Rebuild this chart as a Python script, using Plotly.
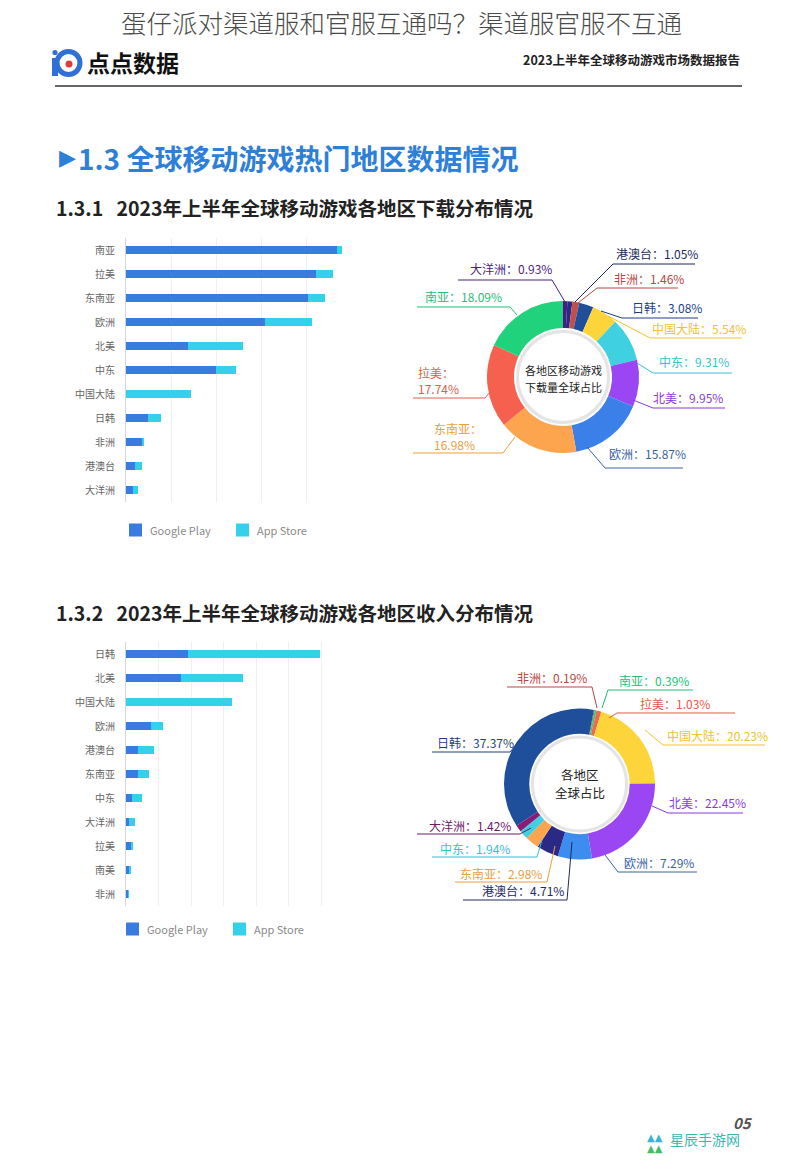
import plotly.graph_objects as go

W, H = 800, 1176
FONT = "Noto Sans CJK SC"

# ---------------- DATA ----------------
dl_regions = ["南亚", "拉美", "东南亚", "欧洲", "北美", "中东", "中国大陆", "日韩", "非洲", "港澳台", "大洋洲"]
dl_google = [46.7, 42.0, 40.3, 30.8, 13.8, 19.9, 0.0, 4.9, 3.5, 2.0, 1.6]
dl_apple = [1.1, 3.8, 3.7, 10.3, 12.0, 4.4, 14.3, 2.8, 0.5, 1.5, 1.1]

rev_regions = ["日韩", "北美", "中国大陆", "欧洲", "港澳台", "东南亚", "中东", "大洋洲", "拉美", "南美", "非洲"]
rev_google = [19.2, 17.0, 0.0, 7.7, 3.7, 3.7, 1.8, 1.0, 1.6, 1.1, 0.7]
rev_apple = [40.6, 18.9, 32.7, 3.8, 5.0, 3.4, 3.2, 1.9, 0.3, 0.3, 0.2]

pie1_regions = ["大洋洲", "港澳台", "非洲", "日韩", "中国大陆", "中东", "北美", "欧洲", "东南亚", "拉美", "南亚"]
pie1_share = [0.93, 1.05, 1.46, 3.08, 5.54, 9.31, 9.95, 15.87, 16.98, 17.74, 18.09]

pie2_regions = ["非洲", "南亚", "拉美", "中国大陆", "北美", "欧洲", "港澳台", "东南亚", "中东", "大洋洲", "日韩"]
pie2_share = [0.19, 0.39, 1.03, 20.23, 22.45, 7.29, 4.71, 2.98, 1.94, 1.42, 37.37]

series_names = ["Google Play", "App Store"]

# ---------------- STYLE ----------------
C_GP = "#3a7be0"
C_AS = "#33d2ea"
region_colors = {
    "大洋洲": "#4b1b86", "港澳台": "#2a2a86", "非洲": "#c2504a", "日韩": "#1f4f9b",
    "中国大陆": "#fdd53a", "中东": "#3fd0e2", "北美": "#9b46f3", "欧洲": "#3b80e8",
    "东南亚": "#fda54e", "拉美": "#f6604e", "南亚": "#1fd27b",
}
pie2_colors = dict(region_colors)
pie2_colors.update({"大洋洲": "#8a1c78", "欧洲": "#3d8cef", "南亚": "#2ecc71", "拉美": "#f06a4a"})
label_colors = {
    "大洋洲": "#4a1f7f", "港澳台": "#23295f", "非洲": "#b9473f", "日韩": "#1e3f86",
    "中国大陆": "#eec232", "中东": "#36bfd4", "北美": "#8c39e3", "欧洲": "#3a62a8",
    "东南亚": "#eb9e3e", "拉美": "#e25c48", "南亚": "#1fbf77",
}
label_colors2 = dict(label_colors)
label_colors2.update({"大洋洲": "#6e1a66"})


def X(px):
    return px / W


def Y(py):
    return 1 - py / H


fig = go.Figure()

# ---------------- BAR CHARTS ----------------
fig.add_trace(go.Bar(y=dl_regions, x=dl_google, orientation="h", name=series_names[0],
                     marker=dict(color=C_GP, line=dict(width=0)), width=0.32,
                     xaxis="x", yaxis="y", showlegend=False))
fig.add_trace(go.Bar(y=dl_regions, x=dl_apple, orientation="h", name=series_names[1],
                     marker=dict(color=C_AS, line=dict(width=0)), width=0.32,
                     xaxis="x", yaxis="y", showlegend=False))
fig.add_trace(go.Bar(y=rev_regions, x=rev_google, orientation="h", name=series_names[0],
                     marker=dict(color=C_GP, line=dict(width=0)), width=0.32,
                     xaxis="x2", yaxis="y2", showlegend=False))
fig.add_trace(go.Bar(y=rev_regions, x=rev_apple, orientation="h", name=series_names[1],
                     marker=dict(color=C_AS, line=dict(width=0)), width=0.32,
                     xaxis="x2", yaxis="y2", showlegend=False))

# ---------------- PIES ----------------
P1C, P1R = (563, 377), 76
P2C, P2R = (579.5, 784), 75.5

fig.add_trace(go.Pie(
    labels=pie1_regions, values=pie1_share, sort=False, direction="clockwise", rotation=0,
    hole=0.645, textinfo="none", showlegend=False,
    marker=dict(colors=[region_colors[r] for r in pie1_regions], line=dict(width=0)),
    domain=dict(x=[X(P1C[0] - P1R), X(P1C[0] + P1R)], y=[Y(P1C[1] + P1R), Y(P1C[1] - P1R)]),
))
fig.add_trace(go.Pie(
    labels=pie2_regions, values=pie2_share, sort=False, direction="clockwise", rotation=11,
    hole=0.665, textinfo="none", showlegend=False,
    marker=dict(colors=[pie2_colors[r] for r in pie2_regions], line=dict(width=0)),
    domain=dict(x=[X(P2C[0] - P2R), X(P2C[0] + P2R)], y=[Y(P2C[1] + P2R), Y(P2C[1] - P2R)]),
))

shapes = []
annotations = []


def text(x, y, s, size, color="#222", anchor="left", weight="normal", family=FONT, style="normal", align="left"):
    annotations.append(dict(
        x=X(x), y=Y(y), xref="paper", yref="paper", text=s, showarrow=False,
        xanchor=anchor, yanchor="middle", align=align,
        font=dict(family=family, size=size, color=color, weight=weight, style=style),
    ))


def polyline(pts, color, width=1):
    d = "M " + " L ".join(f"{X(a):.5f},{Y(b):.5f}" for a, b in pts)
    shapes.append(dict(type="path", path=d, xref="paper", yref="paper",
                       line=dict(color=color, width=width)))


def circle(cx, cy, r, line_color, line_width, fill="rgba(0,0,0,0)"):
    shapes.append(dict(type="circle", xref="paper", yref="paper",
                       x0=X(cx - r), x1=X(cx + r), y0=Y(cy + r), y1=Y(cy - r),
                       line=dict(color=line_color, width=line_width), fillcolor=fill))


def rect(x0, y0, x1, y1, fill, line_width=0):
    shapes.append(dict(type="rect", xref="paper", yref="paper",
                       x0=X(x0), x1=X(x1), y0=Y(y1), y1=Y(y0),
                       line=dict(width=line_width), fillcolor=fill))


# ---------------- HEADER ----------------
text(401, 21, "蛋仔派对渠道服和官服互通吗？渠道服官服不互通", 25.5, "#4a4a4a", "center", 300)
# logo icon
circle(68.5, 63, 11.5, "#2f6fd6", 5)
rect(52, 58, 58, 76, "#2f6fd6")
circle(55, 52.5, 2.6, "#2f6fd6", 0, "#2f6fd6")
circle(69, 64, 3.5, "#e23b3b", 0, "#e23b3b")
text(85, 62, "点点数据", 23, "#111", "left", "bold")
text(742, 60, "2023上半年全球移动游戏市场数据报告", 12.5, "#222", "right", "bold")
shapes.append(dict(type="line", xref="paper", yref="paper", x0=X(55), x1=X(742), y0=Y(86), y1=Y(86),
                   line=dict(color="#333", width=1.5)))

# section heading
text(57, 158, "▶", 22, "#2e7fd8", "left", "bold", "DejaVu Sans")
text(76, 158, "1.3 全球移动游戏热门地区数据情况", 28, "#2e7fd8", "left", "bold")
text(54, 208, "1.3.1&nbsp;&nbsp;&nbsp;2023年上半年全球移动游戏各地区下载分布情况", 19.5, "#222", "left", 600)
text(54, 612, "1.3.2&nbsp;&nbsp;&nbsp;2023年上半年全球移动游戏各地区收入分布情况", 19.5, "#222", "left", 600)

# ---------------- LEGENDS ----------------
for ly, lx in [(530, 129), (929, 126)]:
    rect(lx, ly - 6.5, lx + 13, ly + 6.5, C_GP)
    text(lx + 19, ly, series_names[0], 11, "#8a8a8a")
    rect(lx + 107, ly - 6.5, lx + 120, ly + 6.5, C_AS)
    text(lx + 126, ly, series_names[1], 11, "#8a8a8a")

# ---------------- PIE CENTRES ----------------
circle(P1C[0], P1C[1], 45.5, "#e4e4e4", 3, "white")
text(P1C[0], 370, "各地区移动游戏", 11, "#222", "center")
text(P1C[0], 386.5, "下载量全球占比", 11, "#222", "center")
circle(P2C[0], P2C[1], 47, "#e4e4e4", 3, "white")
text(P2C[0], 774, "各地区", 12.5, "#222", "center")
text(P2C[0], 792, "全球占比", 12.5, "#222", "center")

# ---------------- PIE LABELS ----------------
pie1_label_layout = {
    "大洋洲": (468, 268, [(458, 280), (552, 280), (565, 302)]),
    "港澳台": (614, 254, [(695, 264), (613, 264), (575, 302)]),
    "非洲": (612, 278, [(678, 288), (597, 288), (578, 303)]),
    "日韩": (630, 308, [(698, 318), (622, 318), (601, 311)]),
    "中国大陆": (650, 328, [(742, 338), (650, 338), (608, 316)]),
    "中东": (657, 362, [(732, 373), (653, 373), (637, 363)]),
    "北美": (651, 397, [(725, 408), (653, 408), (633, 400)]),
    "欧洲": (607, 453, [(683, 468), (605, 468), (587, 447)]),
    "东南亚": (432, 436, [(413, 453), (503, 453), (515, 437)]),
    "拉美": (416, 380.5, [(413, 398), (485, 398), (490, 392)]),
    "南亚": (423, 297, [(417, 307), (510, 307), (517, 315)]),
}
two_line = {"东南亚", "拉美"}
for name, val in zip(pie1_regions, pie1_share):
    lx, ly, pts = pie1_label_layout[name]
    col = label_colors[name]
    sep = "<br>" if name in two_line else ""
    text(lx, ly, f"{name}：{sep}{val:.2f}%", 12, col)
    polyline(pts, col, 1)

pie2_label_layout = {
    "非洲": (515, 677, [(507, 687), (592, 687), (597, 708)]),
    "南亚": (617, 680, [(693, 690), (608, 690), (602, 708)]),
    "拉美": (638, 703, [(735, 713), (617, 713), (609, 718)]),
    "中国大陆": (665, 735, [(765, 745), (663, 745), (645, 730)]),
    "北美": (667, 802, [(743, 813), (668, 813), (652, 806)]),
    "欧洲": (622, 862, [(697, 872), (618, 872), (605, 855)]),
    "港澳台": (480, 890, [(463, 900), (567, 900), (572, 842)]),
    "东南亚": (458, 873, [(455, 882), (547, 882), (555, 846)]),
    "中东": (438, 848, [(432, 857), (537, 857), (542, 840)]),
    "大洋洲": (427, 825, [(417, 834), (520, 834), (531, 828)]),
    "日韩": (435, 742, [(432, 752), (510, 752), (520, 740)]),
}
for name, val in zip(pie2_regions, pie2_share):
    lx, ly, pts = pie2_label_layout[name]
    col = label_colors2[name]
    text(lx, ly, f"{name}：{val:.2f}%", 12, col)
    polyline(pts, col, 1)

# ---------------- FOOTER ----------------
text(755, 1122, "05", 15, "#555", "right", "bold", style="italic")
text(645, 1137, "▲▲", 10, "#39b3d6", "left", "normal", "DejaVu Sans")
text(645, 1148, "▲▲", 10, "#3fbf6a", "left", "normal", "DejaVu Sans")
text(668, 1139, "星辰手游网", 14, "#3ab7b0", "left")

axis_common = dict(showticklabels=False, zeroline=False, showline=False, gridcolor="#efefef",
                   gridwidth=1, fixedrange=True, ticks="")
ycommon = dict(type="category", autorange="reversed", showline=True, linecolor="#cfd6e6",
               linewidth=1, showgrid=False, ticks="", ticklabelstandoff=8,
               tickfont=dict(family=FONT, size=10, color="#666"), fixedrange=True)

fig.update_layout(
    width=W, height=H, autosize=False,
    margin=dict(l=0, r=0, t=0, b=0),
    paper_bgcolor="white", plot_bgcolor="white",
    barmode="stack", bargap=0.68,
    xaxis=dict(domain=[X(126), X(352)], range=[0, 50], dtick=10, anchor="y", **axis_common),
    yaxis=dict(domain=[Y(502), Y(238)], anchor="x", **ycommon),
    xaxis2=dict(domain=[X(126), X(353.5)], range=[0, 70], dtick=10, anchor="y2", **axis_common),
    yaxis2=dict(domain=[Y(906), Y(642)], anchor="x2", **ycommon),
    shapes=shapes, annotations=annotations,
    font=dict(family=FONT),
)

fig.write_html("out.html", config={"displayModeBar": False},
               post_script="document.body.style.margin='0';")
